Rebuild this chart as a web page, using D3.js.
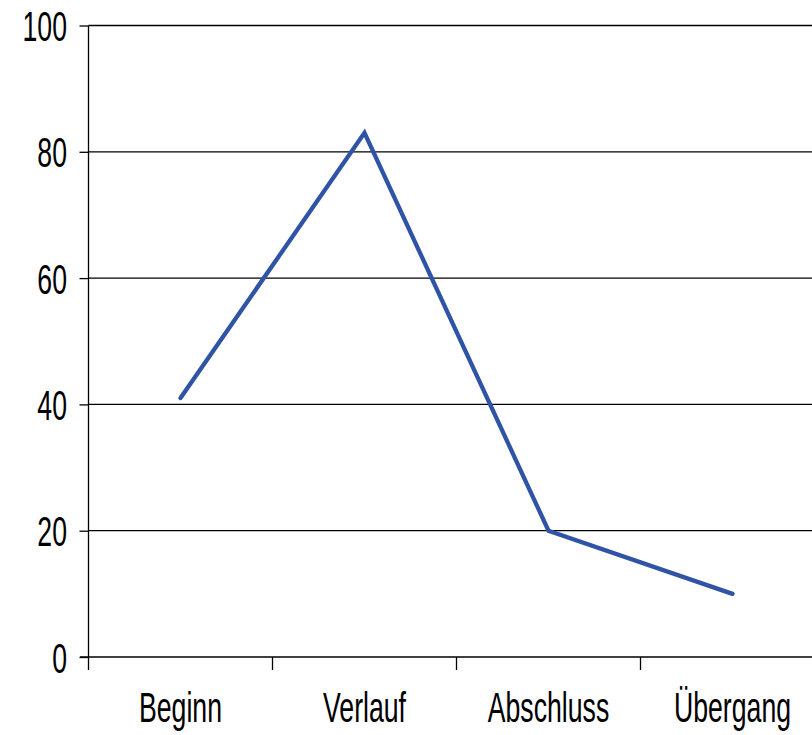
<!DOCTYPE html>
<html>
<head>
<meta charset="utf-8">
<script src="https://cdn.jsdelivr.net/npm/d3@7"></script>
<style>
  body { margin: 0; background: #fff; }
  svg { display: block; }
  text { font-family: "Liberation Sans", Arial, sans-serif; font-size: 42px; fill: #000; }
</style>
</head>
<body>
<svg width="812" height="735"></svg>
<script>
var categories = ["Beginn", "Verlauf", "Abschluss", "Übergang"];
var values = [41, 83, 20, 10];
var yTicks = [0, 20, 40, 60, 80, 100];

var svg = d3.select("svg");
var squeeze = 0.635; // labels are a condensed face

var x = d3.scaleBand()
    .domain(categories)
    .range([88.5, 88.5 + 4 * 184]);

var y = d3.scaleLinear()
    .domain([0, 100])
    .range([657, 25.5]);

// horizontal gridlines
svg.append("g")
    .selectAll("line")
    .data(yTicks.slice(1))
    .enter().append("line")
    .attr("x1", 88.5)
    .attr("x2", 830)
    .attr("y1", d => y(d))
    .attr("y2", d => y(d))
    .attr("stroke", "#000")
    .attr("stroke-width", 1.3);

// y axis
var yAxis = svg.append("g")
    .attr("transform", "translate(88.5,0)")
    .call(d3.axisLeft(y).tickValues(yTicks).tickSize(9).tickPadding(0));
yAxis.select(".domain").remove();
yAxis.selectAll(".tick line").attr("stroke", "#000").attr("stroke-width", 1.3);
yAxis.selectAll(".tick text")
    .attr("x", -21.5 / squeeze)
    .attr("dy", "0.36em")
    .attr("transform", "scale(" + squeeze + ",1)")
    .style("font-size", "42px")
    .style("font-family", "'Liberation Sans', Arial, sans-serif");
yAxis.append("line")
    .attr("x1", 0).attr("x2", 0)
    .attr("y1", y(100)).attr("y2", 670)
    .attr("stroke", "#000").attr("stroke-width", 1.3);

// x axis
svg.append("line")
    .attr("x1", 80).attr("x2", 830)
    .attr("y1", y(0)).attr("y2", y(0))
    .attr("stroke", "#000").attr("stroke-width", 1.3);

var bounds = categories.map(d => x(d)).concat([x.range()[1]]);
svg.append("g")
    .selectAll("line")
    .data(bounds.slice(1))
    .enter().append("line")
    .attr("x1", d => d).attr("x2", d => d)
    .attr("y1", y(0)).attr("y2", 670)
    .attr("stroke", "#000").attr("stroke-width", 1.3);

var xAxis = svg.append("g")
    .attr("transform", "translate(0," + y(0) + ")")
    .call(d3.axisBottom(x).tickSize(0).tickPadding(0));
xAxis.select(".domain").remove();
xAxis.selectAll(".tick text")
    .attr("y", 65.5)
    .attr("dy", 0)
    .attr("transform", "scale(" + squeeze + ",1)")
    .style("font-size", "42px")
    .style("font-family", "'Liberation Sans', Arial, sans-serif");

// the line
var line = d3.line()
    .x((d, i) => x(categories[i]) + x.bandwidth() / 2)
    .y(d => y(d));

svg.append("path")
    .datum(values)
    .attr("d", line)
    .attr("fill", "none")
    .attr("stroke", "#2f54a5")
    .attr("stroke-width", 4.3)
    .attr("stroke-linejoin", "miter")
    .attr("stroke-linecap", "round");
</script>
</body>
</html>
